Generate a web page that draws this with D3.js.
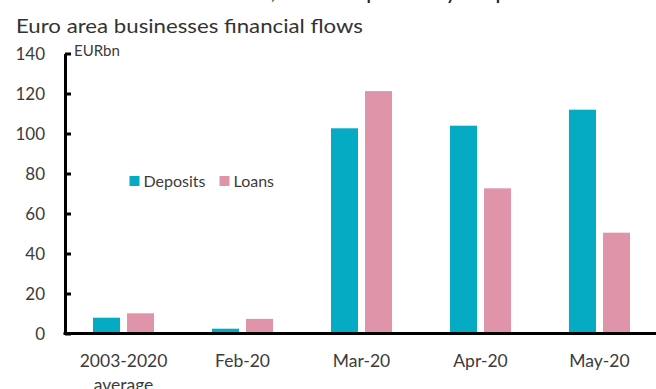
<!DOCTYPE html>
<html>
<head>
<meta charset="utf-8">
<script src="https://cdn.jsdelivr.net/npm/d3@7"></script>
<style>
  html, body { margin: 0; padding: 0; background: #fff; }
  svg { display: block; font-family: Lato, "Open Sans", sans-serif; }
</style>
</head>
<body>
<svg id="chart" width="656" height="389"></svg>
<script>
// Monthly financial flows of euro area non-financial corporations, EUR bn
const categories = ["2003-2020\naverage", "Feb-20", "Mar-20", "Apr-20", "May-20"];
const seriesNames = ["Deposits", "Loans"];
const deposits = [7.9, 2.4, 102.6, 103.9, 111.9];
const loans = [10.1, 7.3, 121.2, 72.6, 50.4];
const yTicks = [0, 20, 40, 60, 80, 100, 120, 140];
const colors = ["#05aac3", "#df94a9"];

const headline = "Chart 1: More loans, more deposits by corporates";
const title = "Euro area businesses financial flows";
const unit = "EURbn";

const rows = categories.map((c, i) => ({ cat: c, values: [deposits[i], loans[i]] }));

const svg = d3.select("#chart");
const textColor = "#3b3b3b";

// Scales
const x0 = d3.scaleBand().domain(categories).range([64, 659])
  .paddingInner(0.487).paddingOuter(0.2437);
const x1 = d3.scaleBand().domain(seriesNames).range([0, x0.bandwidth()])
  .paddingInner(0.206).paddingOuter(0);
const y = d3.scaleLinear().domain([0, 140]).range([333.5, 53.5]);
const color = d3.scaleOrdinal().domain(seriesNames).range(colors);

// Headline (runs off the top edge) and chart title
svg.append("text")
  .attr("x", 68).attr("y", -1)
  .attr("font-size", 22).attr("fill", "#222")
  .attr("textLength", 504).attr("lengthAdjust", "spacingAndGlyphs")
  .text(headline);

svg.append("text")
  .attr("x", 16).attr("y", 33)
  .attr("font-size", 19).attr("fill", "#333")
  .attr("textLength", 347).attr("lengthAdjust", "spacingAndGlyphs")
  .text(title);

// Bars
const groups = svg.append("g").selectAll("g")
  .data(rows).join("g")
  .attr("transform", d => `translate(${x0(d.cat)},0)`);

groups.selectAll("rect")
  .data(d => d.values.map((v, j) => ({ key: seriesNames[j], value: v })))
  .join("rect")
  .attr("x", d => x1(d.key))
  .attr("width", x1.bandwidth())
  .attr("y", d => y(d.value))
  .attr("height", d => y(0) - y(d.value))
  .attr("fill", d => color(d.key));

// Y axis with inward ticks
const yAxis = svg.append("g")
  .attr("transform", "translate(65,0)")
  .call(d3.axisLeft(y).tickValues(yTicks).tickSizeInner(-6).tickSizeOuter(0).tickPadding(20));
yAxis.select(".domain").attr("stroke", "#000").attr("stroke-width", 3);
yAxis.selectAll(".tick line").attr("stroke", "#000").attr("stroke-width", 3);
yAxis.selectAll(".tick text")
  .attr("font-size", 17).attr("font-family", "Lato, sans-serif")
  .attr("fill", textColor).attr("dy", "0.36em");

svg.append("text")
  .attr("x", 74).attr("y", 56)
  .attr("font-size", 15).attr("fill", textColor)
  .text(unit);

// X axis: baseline and category labels
const xAxis = svg.append("g")
  .attr("transform", `translate(0,${y(0)})`)
  .call(d3.axisBottom(x0).tickSize(0).tickPadding(0));
xAxis.select(".domain").remove();
xAxis.append("line")
  .attr("x1", 63.5).attr("x2", 656)
  .attr("stroke", "#000").attr("stroke-width", 3);
xAxis.selectAll(".tick text")
  .attr("font-size", 17.5).attr("font-family", "Lato, sans-serif")
  .attr("fill", textColor)
  .attr("y", 33.5).attr("dy", 0)
  .each(function(d) {
    const lines = d.split("\n");
    const t = d3.select(this).text(null);
    lines.forEach((ln, i) => {
      t.append("tspan").attr("x", 0).attr("dy", i === 0 ? 0 : 24).text(ln);
    });
  });

// Legend
const legend = svg.append("g");
const legendItems = [
  { key: "Deposits", sx: 129.5, tx: 143.5 },
  { key: "Loans", sx: 219.5, tx: 233.5 }
];
legendItems.forEach(it => {
  legend.append("rect")
    .attr("x", it.sx).attr("y", 176).attr("width", 10).attr("height", 10)
    .attr("fill", color(it.key));
  legend.append("text")
    .attr("x", it.tx).attr("y", 186.5)
    .attr("font-size", 16).attr("fill", textColor)
    .text(it.key);
});
</script>
</body>
</html>
